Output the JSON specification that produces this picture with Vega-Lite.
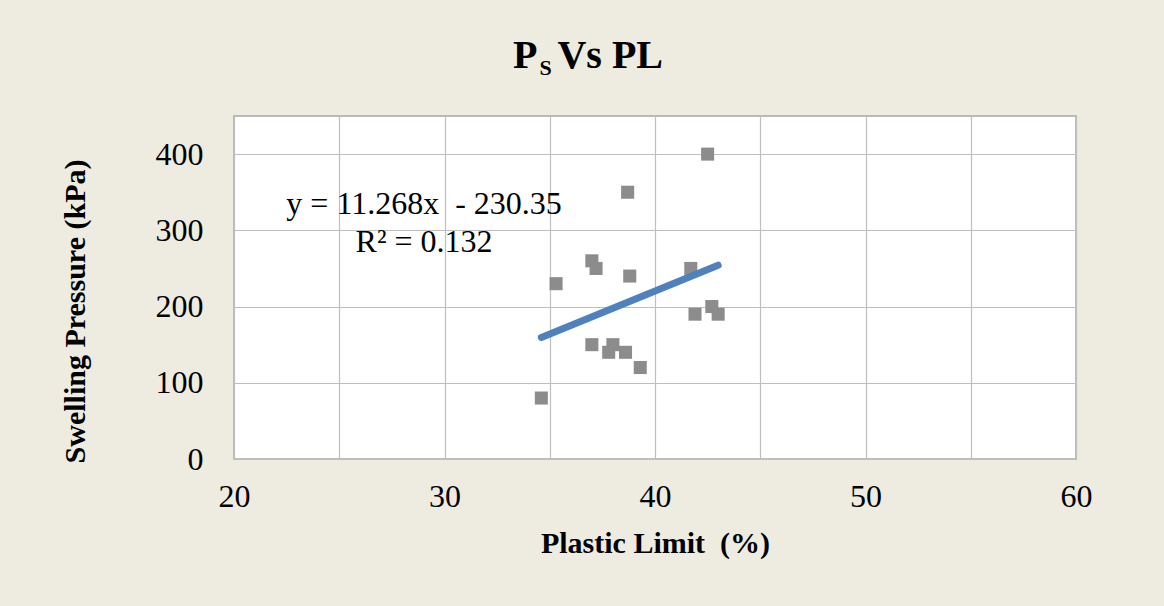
{
  "$schema": "https://vega.github.io/schema/vega-lite/v6.json",
  "autosize": "none",
  "width": 842,
  "height": 343,
  "padding": {"left": 234, "top": 116, "right": 88, "bottom": 147},
  "background": "#EEECE1",
  "title": {
    "text": "P\u2002Vs PL",
    "subtitle": "\u200B\u2002\u2002\u2009S",
    "anchor": "start",
    "frame": "group",
    "dx": 279,
    "offset": 37,
    "font": "Liberation Serif",
    "fontSize": 40,
    "fontWeight": "bold",
    "color": "#000000",
    "subtitleFont": "Liberation Serif",
    "subtitleFontSize": 22,
    "subtitleFontWeight": "bold",
    "subtitleColor": "#000000",
    "subtitlePadding": -18
  },
  "datasets": {
    "points": [
      {"pl": 34.6, "ps": 80},
      {"pl": 35.3, "ps": 230},
      {"pl": 37.0, "ps": 260},
      {"pl": 37.2, "ps": 250},
      {"pl": 37.0, "ps": 150},
      {"pl": 37.8, "ps": 140},
      {"pl": 38.0, "ps": 150},
      {"pl": 38.6, "ps": 140},
      {"pl": 38.7, "ps": 350},
      {"pl": 38.8, "ps": 240},
      {"pl": 39.3, "ps": 120},
      {"pl": 41.7, "ps": 250},
      {"pl": 41.9, "ps": 190},
      {"pl": 42.5, "ps": 400},
      {"pl": 42.7, "ps": 200},
      {"pl": 43.0, "ps": 190}
    ],
    "trend": [
      {"pl": 34.6, "ps": 159.5},
      {"pl": 43.0, "ps": 254.2}
    ],
    "annot": [
      {"pl": 29.03, "ps": 322, "label": "y = 11.268x\u00A0 - 230.35"},
      {"pl": 29.03, "ps": 272, "label": "R² = 0.132"}
    ]
  },
  "layer": [
    {
      "data": {"name": "points"},
      "mark": {"type": "square", "size": 170, "color": "#8C8C8C", "opacity": 1},
      "encoding": {
        "x": {
          "field": "pl", "type": "quantitative",
          "scale": {"domain": [20, 60], "nice": false, "zero": false},
          "axis": {
            "title": "Plastic Limit\u00A0 (%)",
            "values": [20, 25, 30, 35, 40, 45, 50, 55, 60],
            "labelExpr": "datum.value % 10 === 0 ? datum.label : ''",
            "labelPadding": 22,
            "titlePadding": 16
          }
        },
        "y": {
          "field": "ps", "type": "quantitative",
          "scale": {"domain": [0, 450], "nice": false},
          "axis": {
            "title": "Swelling Pressure (kPa)",
            "values": [0, 50, 100, 150, 200, 250, 300, 350, 400, 450],
            "labelExpr": "datum.value % 100 === 0 ? datum.label : ''",
            "labelPadding": 31,
            "titlePadding": 65,
            "titleY": 195
          }
        }
      }
    },
    {
      "data": {"name": "trend"},
      "mark": {"type": "line", "color": "#4F81BD", "strokeWidth": 7, "strokeCap": "round"},
      "encoding": {
        "x": {"field": "pl", "type": "quantitative"},
        "y": {"field": "ps", "type": "quantitative"}
      }
    },
    {
      "data": {"name": "annot"},
      "mark": {"type": "text", "font": "Liberation Serif", "fontSize": 32, "align": "center", "baseline": "alphabetic", "color": "#000000"},
      "encoding": {
        "x": {"field": "pl", "type": "quantitative"},
        "y": {"field": "ps", "type": "quantitative"},
        "text": {"field": "label"}
      }
    }
  ],
  "config": {
    "view": {"fill": "#FFFFFF", "stroke": "#A6A6A6", "strokeWidth": 1.5},
    "axis": {
      "labelFont": "Liberation Serif",
      "labelFontSize": 32,
      "labelColor": "#000000",
      "titleFont": "Liberation Serif",
      "titleFontSize": 30,
      "titleFontWeight": "bold",
      "titleColor": "#000000",
      "ticks": false,
      "domain": false,
      "gridColor": "#BFBFBF",
      "gridWidth": 1.2,
      "gridOpacity": 1,
      "labelOverlap": false,
      "labelFlush": false,
      "labelBound": false
    }
  }
}
